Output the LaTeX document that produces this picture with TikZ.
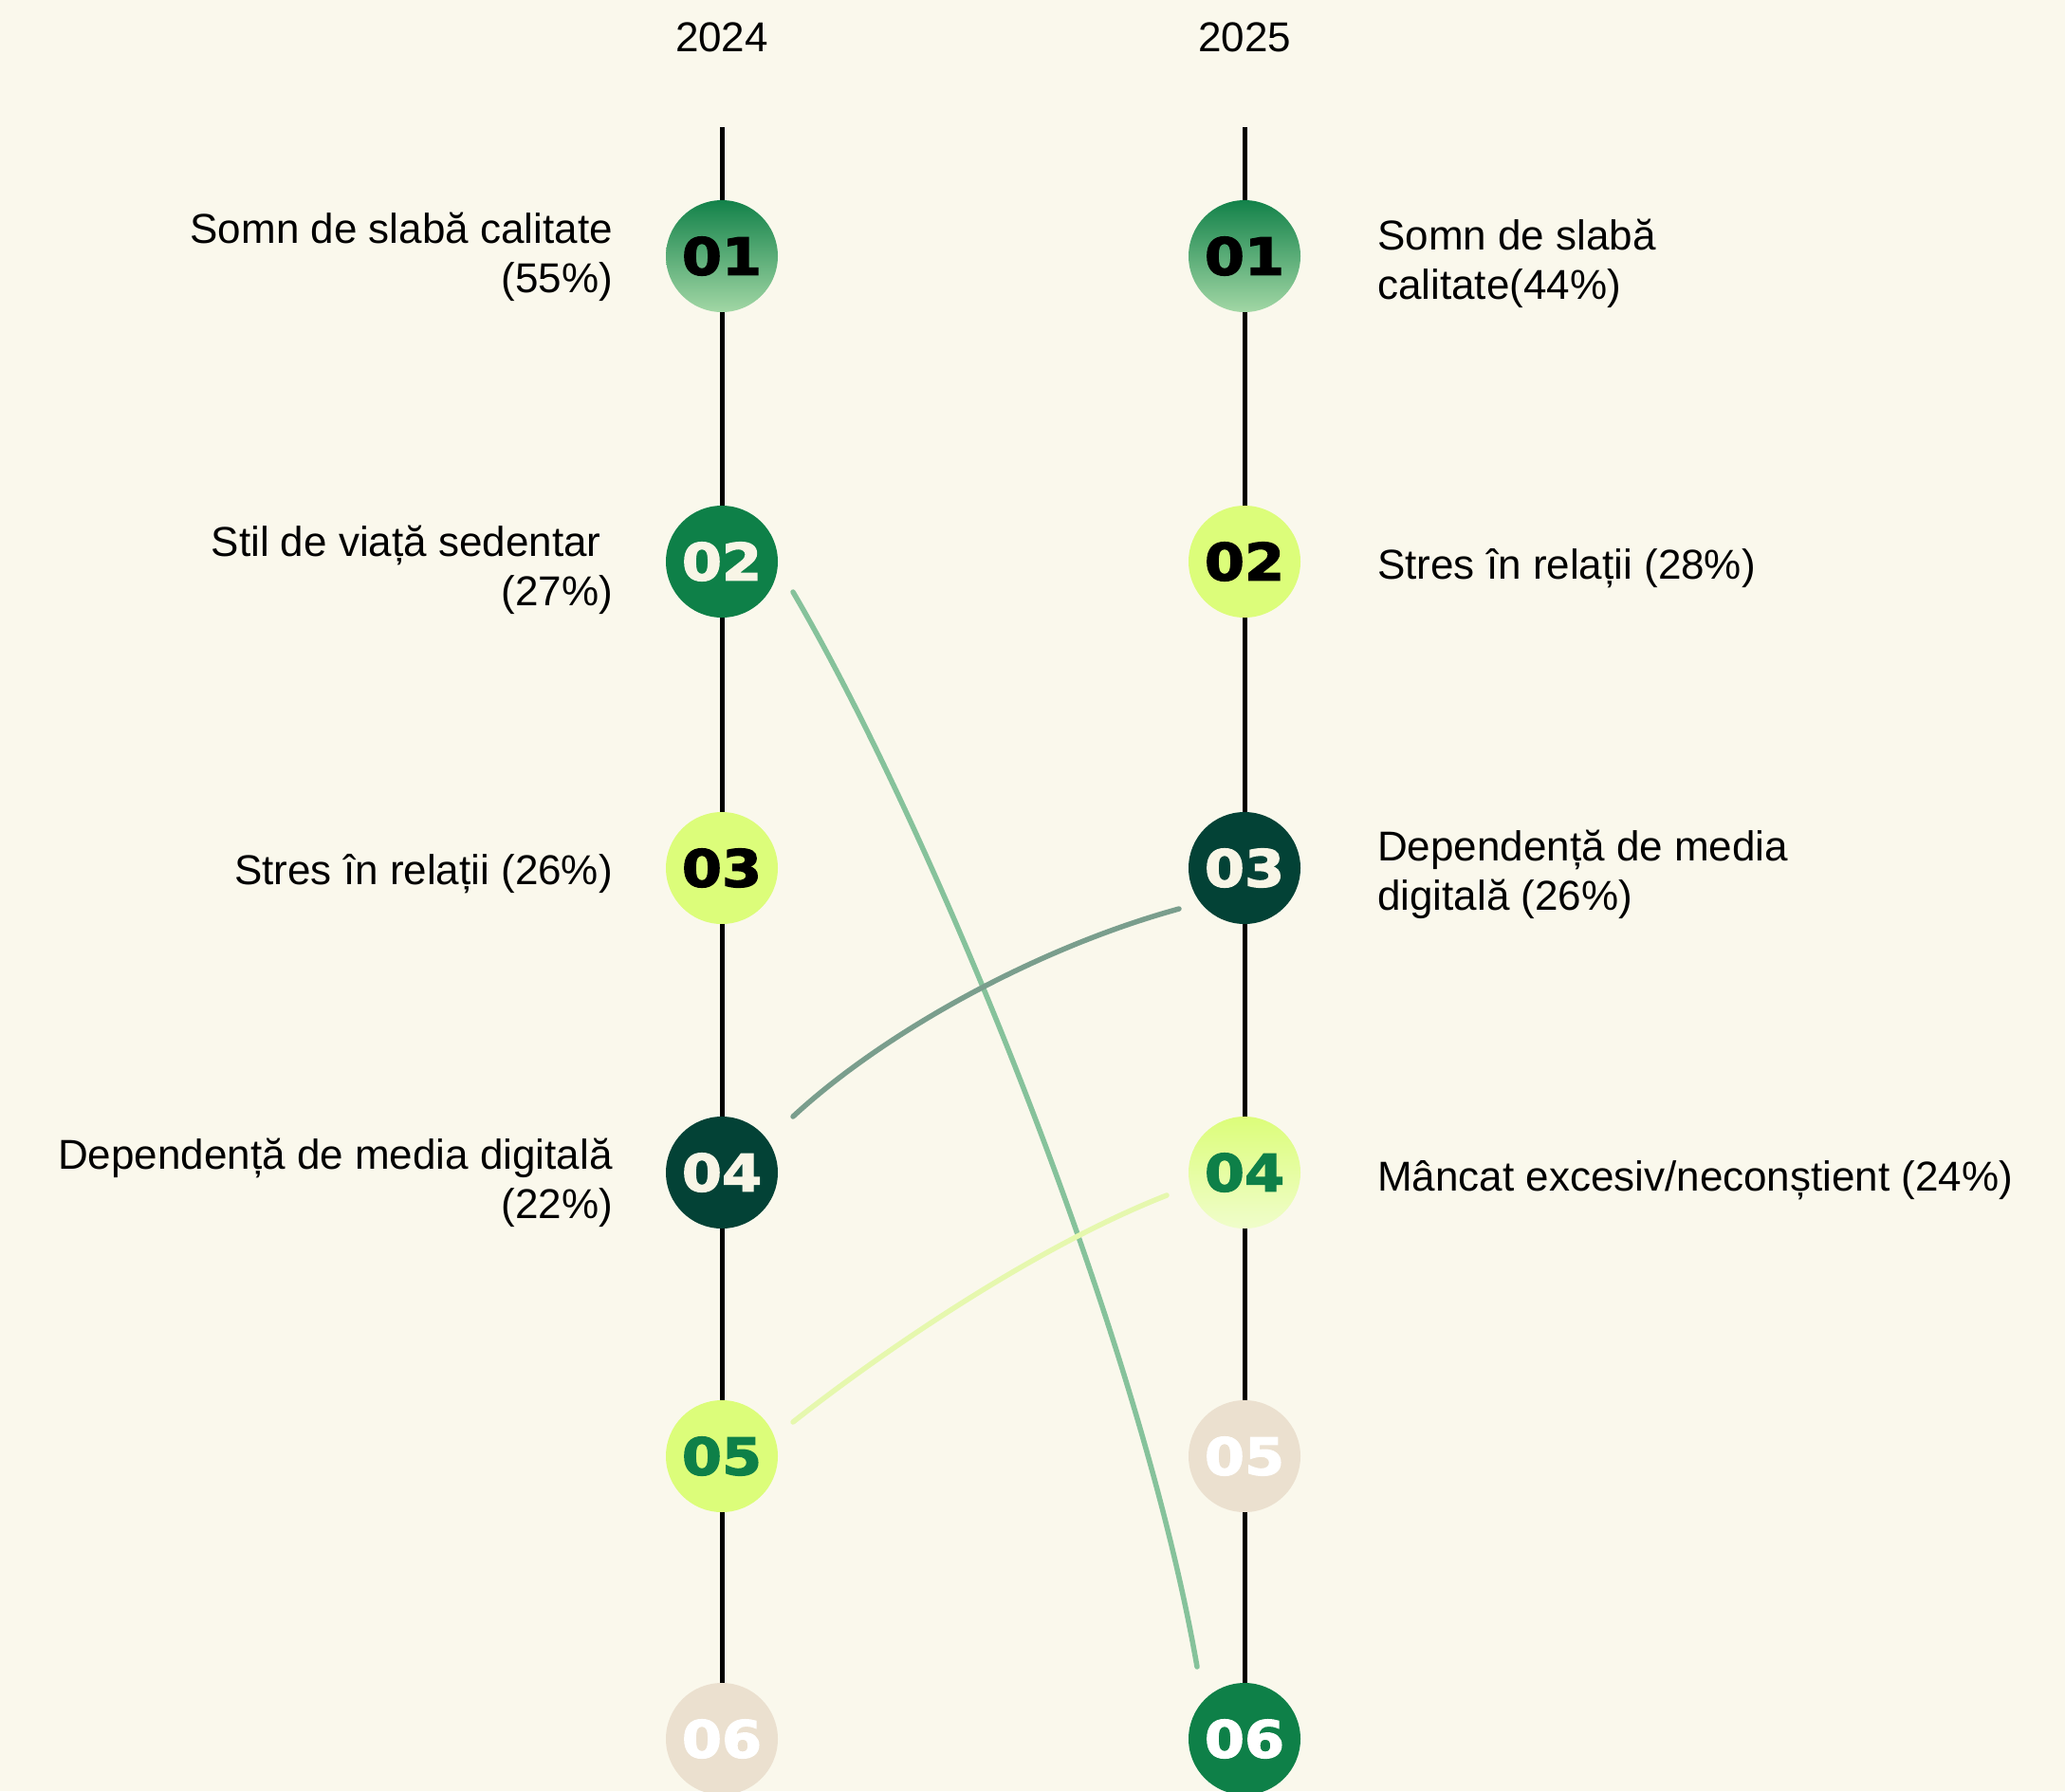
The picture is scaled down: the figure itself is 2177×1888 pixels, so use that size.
\documentclass[tikz,border=0pt]{standalone}
\usepackage{fontspec}
\setmainfont{Liberation Sans}
\newfontfamily\numfont{DejaVu Sans}[FakeStretch=1.12, FakeBold=2.5]
\definecolor{bg}{HTML}{FAF8EC}
\definecolor{dgreen}{HTML}{0E8048}
\definecolor{limec}{HTML}{DCFD7A}
\definecolor{deepteal}{HTML}{034236}
\definecolor{beigec}{HTML}{EBE0CF}
\definecolor{creamc}{HTML}{F8F5E6}
\definecolor{grtop}{HTML}{13824A}
\definecolor{grbot}{HTML}{A2D7A5}
\definecolor{limebot}{HTML}{F0FDCB}
\definecolor{linkA}{HTML}{86C29B}
\definecolor{linkB}{HTML}{7A9E8D}
\definecolor{linkC}{HTML}{E6F8AE}
\tikzset{
  num/.style={circle, minimum size=118pt, inner sep=0pt, font=\numfont\bfseries\fontsize{54}{54}\selectfont},
  lbl/.style={font=\fontsize{44}{52}\selectfont, inner sep=0pt, text=black},
  lblL/.style={lbl, anchor=east, align=right},
  lblR/.style={lbl, anchor=west, align=left},
  axisline/.style={line width=5pt, black},
  link/.style={line width=5.5pt, line cap=round},
}
\begin{document}
\begin{tikzpicture}[x=1pt,y=-1pt]
\fill[bg] (0,0) rectangle (2177,1888);
\useasboundingbox (0,0) rectangle (2177,1888);

% years
\node[lbl] (y1) at (761,39) {2024};
\node[lbl] (y2) at (1312,39) {2025};
\coordinate (t1) at (761,134);
\coordinate (t2) at (1312,134);

% left column
\node[num, top color=grtop, bottom color=grbot, text=black] (l1) at (761,270) {01};
\node[num, fill=dgreen, text=creamc] (l2) at (761,592) {02};
\node[num, fill=limec, text=black] (l3) at (761,915) {03};
\node[num, fill=deepteal, text=creamc] (l4) at (761,1236) {04};
\node[num, fill=limec, text=dgreen] (l5) at (761,1535) {05};
\node[num, fill=beigec, text=white] (l6) at (761,1833) {06};

% right column
\node[num, top color=grtop, bottom color=grbot, text=black] (r1) at (1312,270) {01};
\node[num, fill=limec, text=black] (r2) at (1312,592) {02};
\node[num, fill=deepteal, text=creamc] (r3) at (1312,915) {03};
\node[num, top color=limec, bottom color=limebot, text=dgreen] (r4) at (1312,1236) {04};
\node[num, fill=beigec, text=white] (r5) at (1312,1535) {05};
\node[num, fill=dgreen, text=white] (r6) at (1312,1833) {06};

% axis lines
\draw[axisline] (t1) -- (l1);
\draw[axisline] (l1) -- (l2);
\draw[axisline] (l2) -- (l3);
\draw[axisline] (l3) -- (l4);
\draw[axisline] (l4) -- (l5);
\draw[axisline] (l5) -- (l6);
\draw[axisline] (t2) -- (r1);
\draw[axisline] (r1) -- (r2);
\draw[axisline] (r2) -- (r3);
\draw[axisline] (r3) -- (r4);
\draw[axisline] (r4) -- (r5);
\draw[axisline] (r5) -- (r6);

% left labels
\node[lblL] (tl1) at (646,271) {Somn de slabă calitate\\(55\%)};
\node[lblL] (tl2) at (646,601) {Stil de viață sedentar\ \mbox{}\\(27\%)};
\node[lblL] (tl3) at (646,921) {Stres în relații (26\%)};
\node[lblL] (tl4) at (646,1247) {Dependență de media digitală\\(22\%)};

% right labels
\node[lblR] (tr1) at (1452,278) {Somn de slabă\\calitate(44\%)};
\node[lblR] (tr2) at (1452,599) {Stres în relații (28\%)};
\node[lblR] (tr3) at (1452,922) {Dependență de media\\digitală (26\%)};
\node[lblR] (tr4) at (1452,1244) {Mâncat excesiv/neconștient (24\%)};

% connectors
\draw[link, linkA] ([shift={(75,32)}]l2.center) .. controls (980,870) and (1200,1400) .. ([shift={(-50,-76)}]r6.center);
\draw[link, linkB] ([shift={(75,-59)}]l4.center) .. controls (930,1090) and (1090,1000) .. ([shift={(-69,43)}]r3.center);
\draw[link, linkC] ([shift={(75,-36)}]l5.center) .. controls (930,1425) and (1090,1315) .. ([shift={(-82,24)}]r4.center);
\end{tikzpicture}
\end{document}
